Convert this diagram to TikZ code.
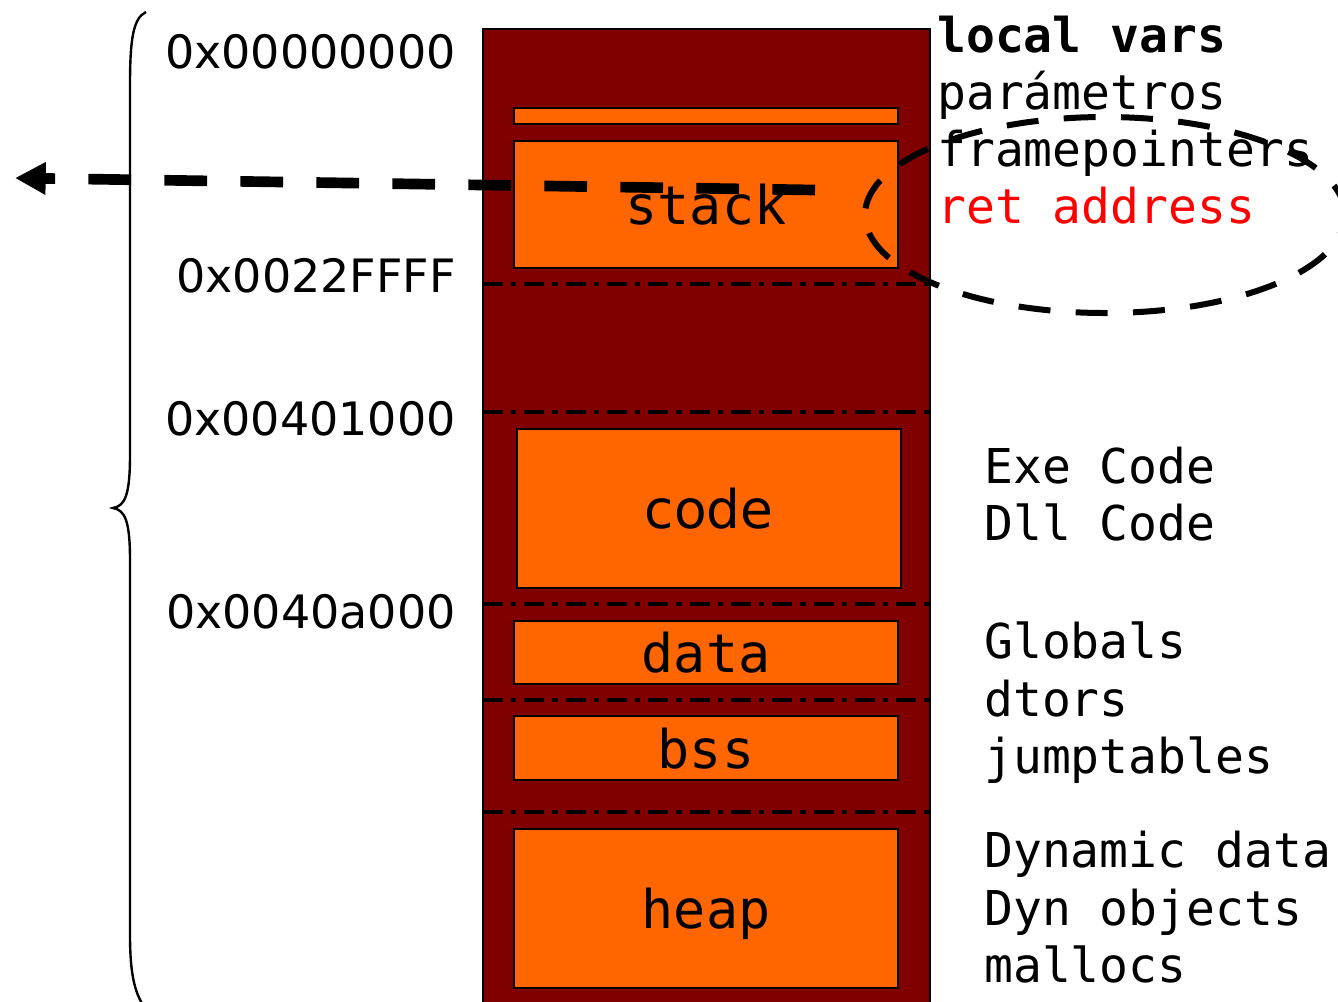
\documentclass[tikz,border=0pt]{standalone}
\usepackage{fontspec}
\setmainfont{DejaVu Sans}
\newfontfamily\monofont{DejaVu Sans Mono}
\usetikzlibrary{arrows.meta}

\definecolor{segred}{HTML}{800000}
\definecolor{segorange}{HTML}{FF6600}

\begin{document}
\begin{tikzpicture}[x=0.75pt,y=-0.75pt,
        segment/.style={draw=black,line width=1.5pt,fill=segorange,inner sep=0pt,outer sep=0pt,
            minimum width=288pt,font=\monofont\fontsize{40}{48}\selectfont,text height=30pt,text depth=0pt},
        addr/.style={anchor=base east,inner sep=0pt,font=\fontsize{34.5}{40}\selectfont},
        note/.style={anchor=base west,inner sep=0pt,font=\monofont\fontsize{36}{43}\selectfont},
        boundary/.style={line width=3pt,dash pattern=on 15pt off 6pt on 4pt off 6pt},
        brace/.style={line width=1.8pt},
        jump/.style={line width=8pt,dash pattern=on 32pt off 25pt,-{Triangle[length=23pt,width=23pt]}},
        highlight/.style={line width=4.5pt,dash pattern=on 24pt off 19pt}]
        \useasboundingbox (0,0) rectangle (1338,1001);

        % process address space
        \draw[line width=1.5pt,fill=segred] (483,29) rectangle (930,1040);

        \node[segment,minimum height=12pt,text height=0pt] (guard) at (706,116) {};
        \node[segment,minimum height=95.25pt] (stack) at (706,204.5) {stack};
        \node[segment,minimum height=119.25pt,font=\fontsize{40}{48}\selectfont] (code) at (709,508.5) {code};
        \node[segment,minimum height=47.25pt] (data) at (706,652.5) {data};
        \node[segment,minimum height=48pt] (bss) at (706,748) {bss};
        \node[segment,minimum height=119.25pt] (heap) at (706,908.5) {heap};

        \draw[boundary] (483,284) -- (930,284);
        \draw[boundary] (483,412) -- (930,412);
        \draw[boundary] (483,604) -- (930,604);
        \draw[boundary] (483,700) -- (930,700);
        \draw[boundary] (483,812) -- (930,812);

        % addresses
        \node[addr] (a0) at (456,68) {0x00000000};
        \node[addr] (a1) at (456,292) {0x0022FFFF};
        \node[addr] (a2) at (456,435) {0x00401000};
        \node[addr] (a3) at (456,628) {0x0040a000};

        \draw[brace] (146,12) .. controls (133,18) and (130,40) .. (130,85) -- (130,455)
            .. controls (130,495) and (125,506) .. (113,508)
            .. controls (125,510) and (130,521) .. (130,560) -- (130,935)
            .. controls (130,975) and (135,992) .. (143,1005);

        % what lives in each segment
        \node[note,font=\monofont\bfseries\fontsize{36}{43}\selectfont] (locals) at (937,52) {local vars};
        \node[note] (params) at (937,109) {parámetros};
        \node[note] (frames) at (937,166) {framepointers};
        \node[note,text=red] (ret) at (937,223) {ret address};

        \node[note] (exe) at (984,483) {Exe Code};
        \node[note] (dll) at (984,540) {Dll Code};
        \node[note] (globals) at (984,658) {Globals};
        \node[note] (dtors) at (984,716) {dtors};
        \node[note] (jumps) at (984,773) {jumptables};
        \node[note] (dyn) at (984,867) {Dynamic data};
        \node[note] (objs) at (984,925) {Dyn objects};
        \node[note] (mallocs) at (984,982) {mallocs};

        % overwritten return address
        \draw[highlight] (1105,215) ellipse [x radius=180pt, y radius=73.5pt];
        \coordinate (retaddr) at (815,190);
        \coordinate (hijack) at (15,178);
        \draw[jump] (retaddr) -- (hijack);
\end{tikzpicture}
\end{document}
